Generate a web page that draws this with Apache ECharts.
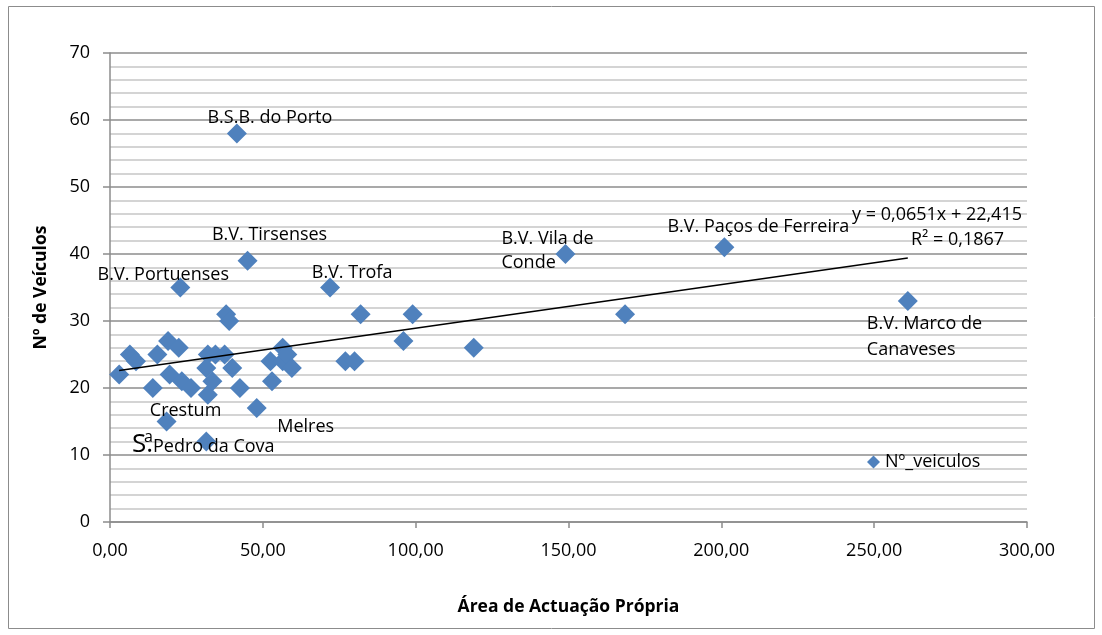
<!DOCTYPE html>
<html>
<head>
<meta charset="utf-8">
<script src="https://cdn.jsdelivr.net/npm/echarts@6/dist/echarts.min.js"></script>
<style>
  html, body { margin: 0; padding: 0; background: #fff; }
  #chart { width: 1102px; height: 635px; }
</style>
</head>
<body>
<div id="chart"></div>
<script>
// Área de actuação própria (x) vs número de veículos (y), por corporação
const areas = [3, 6.5, 8.5, 14, 15.5, 19, 19.5, 22.5, 23, 23.5, 26.5, 18.5, 31.5, 32, 31.5, 32,
  33.5, 34.5, 37.5, 38, 39, 40, 42.5, 41.5, 45, 48, 53, 52.5, 56.5, 56.5, 58, 59.5,
  72, 77, 80, 82, 96, 99, 119, 149, 168.5, 201, 261];
const vehicles = [22, 25, 24, 20, 25, 27, 22, 26, 35, 21, 20, 15, 12, 25, 23, 19,
  21, 25, 25, 31, 30, 23, 20, 58, 39, 17, 21, 24, 26, 24, 25, 23,
  35, 24, 24, 31, 27, 31, 26, 40, 31, 41, 33];
const names = ['', '', '', '', '', '', '', '', 'B.V. Portuenses', '', '', 'Crestum', 'S.ª Pedro da Cova', '', '', '',
  '', '', '', '', '', '', '', 'B.S.B. do Porto', 'B.V. Tirsenses', 'Melres', '', '', '', '', '', '',
  'B.V. Trofa', '', '', '', '', '', '', 'B.V. Vila de Conde', '', 'B.V. Paços de Ferreira', 'B.V. Marco de Canaveses'];

// Linear trend: y = slope * x + intercept, R²
const slope = 0.0651;
const intercept = 22.415;
const rSquared = 0.1867;

const xTicks = [0, 50, 100, 150, 200, 250, 300];
const yTicks = [0, 10, 20, 30, 40, 50, 60, 70];

const FONT = '"Open Sans", "Noto Sans", sans-serif';
const BLUE = '#4F81BD';
const comma = (v, d) => v.toFixed(d).replace('.', ',');

// Label placement for the named points
const labelStyle = {
  'B.S.B. do Porto': { offset: [33, -16] },
  'B.V. Tirsenses': { offset: [22, -26] },
  'B.V. Portuenses': { offset: [-17, -13] },
  'B.V. Trofa': { offset: [22, -15] },
  'B.V. Vila de Conde': { offset: [-64, -3], align: 'left', text: 'B.V. Vila de\nConde', lineHeight: 24 },
  'B.V. Paços de Ferreira': { offset: [34, -20] },
  'B.V. Marco de Canaveses': { offset: [-41, 36], align: 'left', text: 'B.V. Marco de\nCanaveses', lineHeight: 26 },
  'Crestum': { offset: [19, -11] },
  'Melres': { offset: [49, 19] },
  'S.ª Pedro da Cova': { offset: [-3, 3], rich: true }
};

const scatterData = areas.map((x, i) => {
  const name = names[i];
  const item = { value: [x, vehicles[i]], name: name };
  if (name) {
    const s = labelStyle[name];
    let txt = s.text || name;
    if (s.rich) txt = '{big|S.}{sup|a}{n|Pedro da Cova}';
    item.label = {
      show: true,
      position: 'inside',
      formatter: () => txt,
      offset: s.offset,
      align: s.align || 'center',
      verticalAlign: 'middle',
      lineHeight: s.lineHeight || 22,
      color: '#000',
      fontFamily: FONT,
      fontSize: 18,
      rich: {
        big: { fontSize: 26, fontFamily: FONT, color: '#000', lineHeight: 30 },
        sup: { fontSize: 16, fontFamily: FONT, color: '#000', verticalAlign: 'top', padding: [0, 0, 10, -9] },
        n: { fontSize: 18, fontFamily: FONT, color: '#000', padding: [4, 0, 0, 0] }
      }
    };
  }
  return item;
});

const xMinData = Math.min(...areas);
const xMaxData = Math.max(...areas);
const trendData = [
  [xMinData, slope * xMinData + intercept],
  [xMaxData, slope * xMaxData + intercept]
];

const chart = echarts.init(document.getElementById('chart'), null, { renderer: 'canvas' });
chart.setOption({
  animation: false,
  backgroundColor: '#fff',
  textStyle: { fontFamily: FONT },
  grid: { left: 110, right: 75, top: 53, bottom: 113 },
  xAxis: {
    type: 'value',
    min: xTicks[0],
    max: xTicks[xTicks.length - 1],
    interval: 50,
    name: 'Área de Actuação Própria',
    nameLocation: 'middle',
    nameGap: 76,
    nameTextStyle: { fontWeight: 'bold', fontSize: 17.5, color: '#000', fontFamily: FONT },
    axisLine: { show: true, lineStyle: { color: '#8c8c8c', width: 1.5 } },
    axisTick: { show: true, inside: false, length: 6, lineStyle: { color: '#8c8c8c', width: 1.5 } },
    axisLabel: { color: '#000', fontSize: 18, margin: 20, formatter: v => comma(v, 2) },
    splitLine: { show: false }
  },
  yAxis: {
    type: 'value',
    min: yTicks[0],
    max: yTicks[yTicks.length - 1],
    interval: 10,
    name: 'Nº de Veículos',
    nameLocation: 'middle',
    nameRotate: 90,
    nameGap: 60,
    nameTextStyle: { fontWeight: 'bold', fontSize: 17.5, color: '#000', fontFamily: FONT },
    axisLine: { show: true, lineStyle: { color: '#8c8c8c', width: 1.5 } },
    axisTick: { show: true, inside: false, length: 7, lineStyle: { color: '#8c8c8c', width: 1.5 } },
    axisLabel: { color: '#000', fontSize: 18, margin: 20 },
    splitLine: { show: true, lineStyle: { color: '#8c8c8c', width: 1.5 } },
    minorTick: { show: false, splitNumber: 5 },
    minorSplitLine: { show: true, lineStyle: { color: '#c6c6c6', width: 1.5 } }
  },
  legend: {
    data: [{ name: 'Nº_veiculos', icon: 'diamond' }],
    left: 862,
    top: 448,
    itemWidth: 13,
    itemHeight: 13,
    itemGap: 10,
    textStyle: { fontSize: 18, color: '#000', fontFamily: FONT }
  },
  series: [
    {
      name: 'Nº_veiculos',
      type: 'scatter',
      symbol: 'diamond',
      symbolSize: 20,
      itemStyle: { color: BLUE, opacity: 1 },
      data: scatterData,
      z: 3
    },
    {
      name: 'Linear (Nº_veiculos)',
      type: 'line',
      data: trendData,
      symbol: 'none',
      lineStyle: { color: '#000', width: 1.5 },
      silent: true,
      z: 4
    }
  ],
  graphic: [
    {
      type: 'rect',
      shape: { x: 8.5, y: 6.5, width: 1086, height: 622 },
      style: { fill: 'none', stroke: '#8c8c8c', lineWidth: 1 },
      silent: true
    },
    {
      type: 'text',
      right: 80,
      top: 206,
      style: {
        text: 'y = ' + comma(slope, 4) + 'x + ' + comma(intercept, 3),
        fill: '#000', fontSize: 18, fontFamily: FONT, align: 'right'
      },
      z: 10
    },
    {
      type: 'text',
      left: 911,
      top: 231,
      style: {
        text: 'R² = ' + comma(rSquared, 4),
        fill: '#000', fontSize: 18, fontFamily: FONT
      },
      z: 10
    }
  ]
});
</script>
</body>
</html>
